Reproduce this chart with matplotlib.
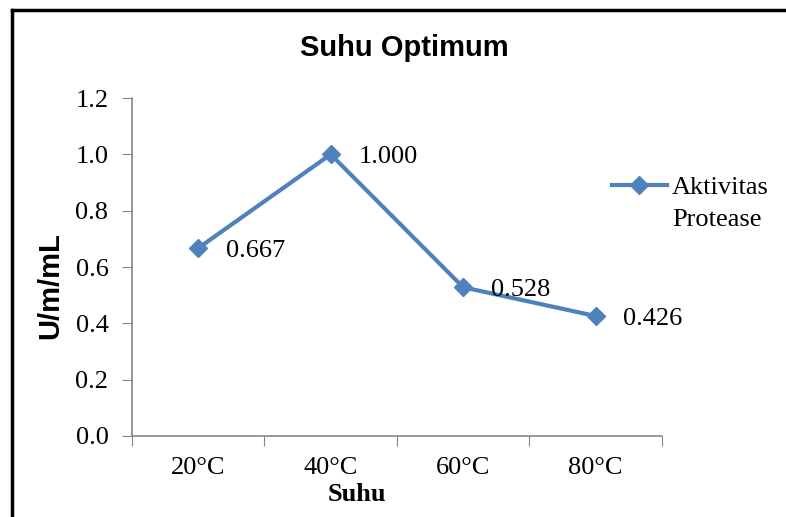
import matplotlib.pyplot as plt
from matplotlib.lines import Line2D
from matplotlib.ticker import FixedLocator, FormatStrFormatter

# data
suhu = ['20°C', '40°C', '60°C', '80°C']
aktivitas = [0.667, 1.000, 0.528, 0.426]
label_aktivitas = ['0.667', '1.000', '0.528', '0.426']

BIRU = '#4F81BD'
ABU = '#868686'
SERIF = 'Liberation Serif'
SANS = 'Liberation Sans'
FS = 19

fig = plt.figure(figsize=(7.86, 5.17), dpi=100)
ax = fig.add_axes([0.168, 0.1567, 0.674, 0.6537])

x = list(range(len(suhu)))
ax.plot(x, aktivitas, color=BIRU, linewidth=3, marker='D', markersize=9,
        markerfacecolor=BIRU, markeredgecolor=BIRU, zorder=3)

for xi, yi, teks in zip(x, aktivitas, label_aktivitas):
    ax.annotate(teks, (xi, yi), xytext=(20, 0), textcoords='offset points',
                va='center_baseline', ha='left', fontsize=FS, family=SERIF)

ax.set_xlim(-0.5, len(suhu) - 0.5)
ax.set_ylim(0, 1.2)
ax.set_yticks([0.0, 0.2, 0.4, 0.6, 0.8, 1.0, 1.2])
ax.yaxis.set_major_formatter(FormatStrFormatter('%.1f'))

# ticks between categories, like Excel
ax.xaxis.set_major_locator(FixedLocator([i - 0.5 for i in range(len(suhu) + 1)]))
ax.xaxis.set_minor_locator(FixedLocator(x))
ax.set_xticklabels([], minor=False)
ax.set_xticklabels(suhu, minor=True)
ax.tick_params(axis='x', which='major', length=7, color=ABU, direction='out')
ax.tick_params(axis='x', which='minor', length=0, pad=15)
ax.tick_params(axis='y', length=7, color=ABU, direction='out', pad=10)
for lbl in ax.get_xticklabels(minor=True) + ax.get_yticklabels():
    lbl.set_fontfamily(SERIF)
    lbl.set_fontsize(FS)

for s in ['top', 'right']:
    ax.spines[s].set_visible(False)
for s in ['left', 'bottom']:
    ax.spines[s].set_color(ABU)
    ax.spines[s].set_linewidth(1.2)

ax.set_xlabel('Suhu', family=SERIF, fontsize=19, fontweight='bold')
ax.xaxis.set_label_coords(0.425, -0.139)
ax.set_ylabel('U/m/mL', family=SANS, fontsize=21, fontweight='bold', va='center')
ax.yaxis.set_label_coords(-0.155, 0.444)
fig.text(0.515, 0.907, 'Suhu Optimum', ha='center', va='center',
         family=SANS, fontsize=21, fontweight='bold')

# legend: handle sits on the first line, like in Excel
garis = Line2D([], [], color=BIRU, linewidth=3, marker='D', markersize=9)
leg = fig.legend([garis], ['Aktivitas'], loc='center left',
                 bbox_to_anchor=(0.778, 0.638), frameon=False,
                 prop={'family': SERIF, 'size': FS}, handlelength=2.1,
                 handletextpad=0.2, borderaxespad=0, borderpad=0)
fig.canvas.draw()
ax.annotate('Protease', xy=(0, 0), xycoords=leg.get_texts()[0],
            xytext=(0, -23), textcoords='offset points',
            ha='left', va='bottom', fontsize=FS, family=SERIF,
            annotation_clip=False)

# chart border
fig.add_artist(Line2D([0.0153, 0.0153], [0.0, 0.981], color='black',
                      linewidth=2.5, transform=fig.transFigure))
fig.add_artist(Line2D([0.0153, 1.0], [0.981, 0.981], color='black',
                      linewidth=2.5, transform=fig.transFigure))

fig.savefig('out.png', dpi=100)
